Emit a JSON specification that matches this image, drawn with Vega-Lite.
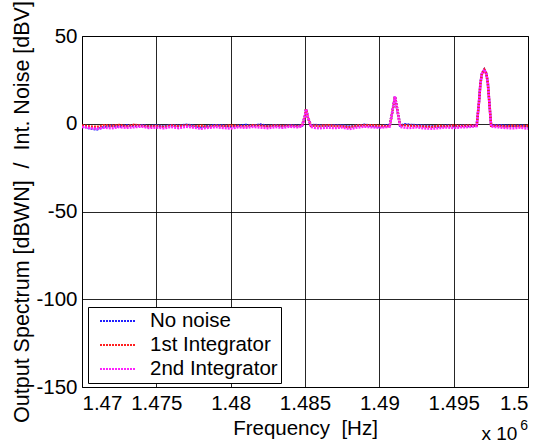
{
  "$schema": "https://vega.github.io/schema/vega-lite/v6.json",
  "autosize": {"type": "none"},
  "width": 446,
  "height": 351,
  "padding": {"left": 82, "top": 36, "right": 13, "bottom": 57},
  "background": "white",
  "config": {
    "font": "Liberation Sans",
    "view": {"stroke": "black", "strokeWidth": 1},
    "axis": {
      "labelFont": "Liberation Sans", "titleFont": "Liberation Sans",
      "labelFontSize": 20.5, "titleFontSize": 20.5,
      "labelColor": "black", "titleColor": "black", "titleFontWeight": "normal",
      "grid": true, "gridColor": "black", "gridWidth": 1, "gridOpacity": 0.85,
      "ticks": false, "domain": false
    }
  },
  "title": {
    "text": "x 10\u00a0\u00a0\u200b", "orient": "bottom", "anchor": "end", "frame": "group",
    "offset": -14, "fontSize": 19, "fontWeight": "normal", "font": "Liberation Sans", "color": "black",
    "subtitle": "6", "subtitleFontSize": 14, "subtitleFont": "Liberation Sans", "subtitleColor": "black",
    "subtitlePadding": -25
  },
  "data": {
    "values": [
      {"f": 1.4700, "No noise": -1.2, "1st Integrator": -1.0, "2nd Integrator": -1.8},
      {"f": 1.4705, "No noise": -2.6, "1st Integrator": -1.5, "2nd Integrator": -2.4},
      {"f": 1.4710, "No noise": -3.2, "1st Integrator": -1.8, "2nd Integrator": -2.9},
      {"f": 1.4715, "No noise": -1.8, "1st Integrator": -0.8, "2nd Integrator": -2.2},
      {"f": 1.4720, "No noise": -1.1, "1st Integrator": -1.2, "2nd Integrator": -2.6},
      {"f": 1.4725, "No noise": -1.6, "1st Integrator": -0.7, "2nd Integrator": -1.9},
      {"f": 1.4730, "No noise": -0.9, "1st Integrator": -1.5, "2nd Integrator": -2.3},
      {"f": 1.4735, "No noise": -1.3, "1st Integrator": -0.6, "2nd Integrator": -2.0},
      {"f": 1.4740, "No noise": -0.8, "1st Integrator": -1.1, "2nd Integrator": -1.6},
      {"f": 1.4745, "No noise": -1.4, "1st Integrator": -1.6, "2nd Integrator": -2.4},
      {"f": 1.4750, "No noise": -1.0, "1st Integrator": -1.3, "2nd Integrator": -2.1},
      {"f": 1.4755, "No noise": -1.5, "1st Integrator": -1.9, "2nd Integrator": -2.6},
      {"f": 1.4760, "No noise": -0.9, "1st Integrator": -1.0, "2nd Integrator": -1.8},
      {"f": 1.4765, "No noise": -1.2, "1st Integrator": -1.4, "2nd Integrator": -2.5},
      {"f": 1.4770, "No noise": -0.6, "1st Integrator": -0.9, "2nd Integrator": -1.7},
      {"f": 1.4775, "No noise": -1.1, "1st Integrator": -1.5, "2nd Integrator": -2.2},
      {"f": 1.4780, "No noise": -2.0, "1st Integrator": -1.2, "2nd Integrator": -2.8},
      {"f": 1.4785, "No noise": -1.3, "1st Integrator": -1.7, "2nd Integrator": -2.3},
      {"f": 1.4790, "No noise": -0.8, "1st Integrator": -1.1, "2nd Integrator": -1.9},
      {"f": 1.4795, "No noise": -1.0, "1st Integrator": -1.4, "2nd Integrator": -2.4},
      {"f": 1.4800, "No noise": -1.6, "1st Integrator": -1.0, "2nd Integrator": -2.7},
      {"f": 1.4805, "No noise": -1.2, "1st Integrator": -1.3, "2nd Integrator": -2.0},
      {"f": 1.4810, "No noise": -0.7, "1st Integrator": -1.6, "2nd Integrator": -2.3},
      {"f": 1.4815, "No noise": -1.1, "1st Integrator": -0.9, "2nd Integrator": -1.8},
      {"f": 1.4820, "No noise": -0.5, "1st Integrator": -1.2, "2nd Integrator": -2.2},
      {"f": 1.4825, "No noise": -1.3, "1st Integrator": -1.5, "2nd Integrator": -2.5},
      {"f": 1.4830, "No noise": -0.9, "1st Integrator": -1.0, "2nd Integrator": -1.9},
      {"f": 1.4835, "No noise": -1.4, "1st Integrator": -1.3, "2nd Integrator": -2.3},
      {"f": 1.4840, "No noise": -0.8, "1st Integrator": -1.1, "2nd Integrator": -1.7},
      {"f": 1.4845, "No noise": -1.2, "1st Integrator": -1.4, "2nd Integrator": -2.0},
      {"f": 1.4848, "No noise": -1.0, "1st Integrator": -1.2, "2nd Integrator": -1.5},
      {"f": 1.4850, "No noise": 4.5, "1st Integrator": 4.5, "2nd Integrator": 4.5},
      {"f": 1.48507, "No noise": 8.3, "1st Integrator": 8.3, "2nd Integrator": 8.3},
      {"f": 1.4852, "No noise": 3.5, "1st Integrator": 3.5, "2nd Integrator": 3.5},
      {"f": 1.4854, "No noise": -1.0, "1st Integrator": -1.2, "2nd Integrator": -1.8},
      {"f": 1.4857, "No noise": -0.7, "1st Integrator": -1.0, "2nd Integrator": -2.4},
      {"f": 1.4860, "No noise": -0.9, "1st Integrator": -1.3, "2nd Integrator": -2.6},
      {"f": 1.4865, "No noise": -1.1, "1st Integrator": -0.8, "2nd Integrator": -2.2},
      {"f": 1.4870, "No noise": -0.8, "1st Integrator": -1.2, "2nd Integrator": -2.5},
      {"f": 1.4875, "No noise": -1.0, "1st Integrator": -1.4, "2nd Integrator": -2.1},
      {"f": 1.4880, "No noise": -1.5, "1st Integrator": -2.0, "2nd Integrator": -3.0},
      {"f": 1.4885, "No noise": -1.2, "1st Integrator": -1.0, "2nd Integrator": -2.2},
      {"f": 1.4890, "No noise": -0.6, "1st Integrator": -0.9, "2nd Integrator": -1.7},
      {"f": 1.4895, "No noise": -1.2, "1st Integrator": -0.8, "2nd Integrator": -2.0},
      {"f": 1.4900, "No noise": -1.6, "1st Integrator": -1.2, "2nd Integrator": -2.3},
      {"f": 1.4905, "No noise": -0.9, "1st Integrator": -1.4, "2nd Integrator": -1.9},
      {"f": 1.4907, "No noise": -1.0, "1st Integrator": -1.2, "2nd Integrator": -1.6},
      {"f": 1.4909, "No noise": 8.0, "1st Integrator": 8.0, "2nd Integrator": 8.0},
      {"f": 1.49105, "No noise": 15.5, "1st Integrator": 15.5, "2nd Integrator": 15.5},
      {"f": 1.4912, "No noise": 8.5, "1st Integrator": 8.5, "2nd Integrator": 8.5},
      {"f": 1.4914, "No noise": -1.0, "1st Integrator": -1.2, "2nd Integrator": -1.8},
      {"f": 1.4917, "No noise": -0.3, "1st Integrator": -0.8, "2nd Integrator": -2.2},
      {"f": 1.4920, "No noise": -0.6, "1st Integrator": -1.1, "2nd Integrator": -2.5},
      {"f": 1.4925, "No noise": -0.9, "1st Integrator": -1.3, "2nd Integrator": -2.0},
      {"f": 1.4930, "No noise": -1.2, "1st Integrator": -1.6, "2nd Integrator": -2.6},
      {"f": 1.4935, "No noise": -1.4, "1st Integrator": -1.8, "2nd Integrator": -2.8},
      {"f": 1.4940, "No noise": -1.6, "1st Integrator": -1.2, "2nd Integrator": -2.5},
      {"f": 1.4945, "No noise": -1.0, "1st Integrator": -1.4, "2nd Integrator": -2.1},
      {"f": 1.4950, "No noise": -1.4, "1st Integrator": -1.0, "2nd Integrator": -2.4},
      {"f": 1.4955, "No noise": -1.1, "1st Integrator": -1.3, "2nd Integrator": -2.0},
      {"f": 1.4960, "No noise": -1.3, "1st Integrator": -1.0, "2nd Integrator": -1.9},
      {"f": 1.49655, "No noise": -1.0, "1st Integrator": -1.1, "2nd Integrator": -1.4},
      {"f": 1.4967, "No noise": 12.0, "1st Integrator": 12.0, "2nd Integrator": 12.0},
      {"f": 1.4968, "No noise": 23.0, "1st Integrator": 23.0, "2nd Integrator": 23.0},
      {"f": 1.4969, "No noise": 28.5, "1st Integrator": 28.5, "2nd Integrator": 28.5},
      {"f": 1.49706, "No noise": 30.8, "1st Integrator": 30.8, "2nd Integrator": 30.8},
      {"f": 1.4972, "No noise": 28.5, "1st Integrator": 28.5, "2nd Integrator": 28.5},
      {"f": 1.4973, "No noise": 23.0, "1st Integrator": 23.0, "2nd Integrator": 23.0},
      {"f": 1.4974, "No noise": 12.0, "1st Integrator": 12.0, "2nd Integrator": 12.0},
      {"f": 1.49752, "No noise": -1.0, "1st Integrator": -1.2, "2nd Integrator": -1.6},
      {"f": 1.4980, "No noise": -0.8, "1st Integrator": -1.2, "2nd Integrator": -2.0},
      {"f": 1.4985, "No noise": -1.1, "1st Integrator": -1.5, "2nd Integrator": -2.4},
      {"f": 1.4990, "No noise": -1.3, "1st Integrator": -1.1, "2nd Integrator": -2.6},
      {"f": 1.4995, "No noise": -1.0, "1st Integrator": -1.4, "2nd Integrator": -2.2},
      {"f": 1.5000, "No noise": -1.6, "1st Integrator": -1.2, "2nd Integrator": -2.8}
    ]
  },
  "transform": [
    {"fold": ["No noise", "1st Integrator", "2nd Integrator"], "as": ["series", "v"]}
  ],
  "mark": {"type": "line", "strokeWidth": 2.5, "strokeDash": [2, 1], "clip": true},
  "encoding": {
    "x": {
      "field": "f", "type": "quantitative",
      "scale": {"domain": [1.47, 1.5], "nice": false, "zero": false},
      "axis": {
        "values": [1.47, 1.475, 1.48, 1.485, 1.49, 1.495, 1.5],
        "labelExpr": "'' + datum.value",
        "labelPadding": 6, "titlePadding": 5,
        "title": "Frequency \u00a0[Hz]"
      }
    },
    "y": {
      "field": "v", "type": "quantitative",
      "scale": {"domain": [-150, 50], "nice": false, "zero": false},
      "axis": {
        "values": [-150, -100, -50, 0, 50],
        "labelExpr": "'' + datum.value",
        "labelPadding": 5, "titlePadding": 2, "titleFontSize": 21.5,
        "title": "Output Spectrum [dBWN] \u00a0/\u00a0 Int. Noise [dBV]"
      }
    },
    "color": {
      "field": "series", "type": "nominal",
      "scale": {"domain": ["No noise", "1st Integrator", "2nd Integrator"], "range": ["#2020ff", "#ff2020", "#ff20ff"]},
      "legend": {
        "orient": "none", "legendX": 6, "legendY": 271, "title": null,
        "strokeColor": "black", "fillColor": "white", "padding": 3,
        "symbolType": "M-1.8,0H1.8", "symbolSize": 400, "symbolStrokeWidth": 2, "symbolDash": [2, 1],
        "symbolFillColor": "transparent",
        "labelFontSize": 20.5, "labelFont": "Liberation Sans", "labelColor": "black",
        "rowPadding": 2, "symbolOffset": 16, "labelOffset": 21
      }
    }
  }
}
